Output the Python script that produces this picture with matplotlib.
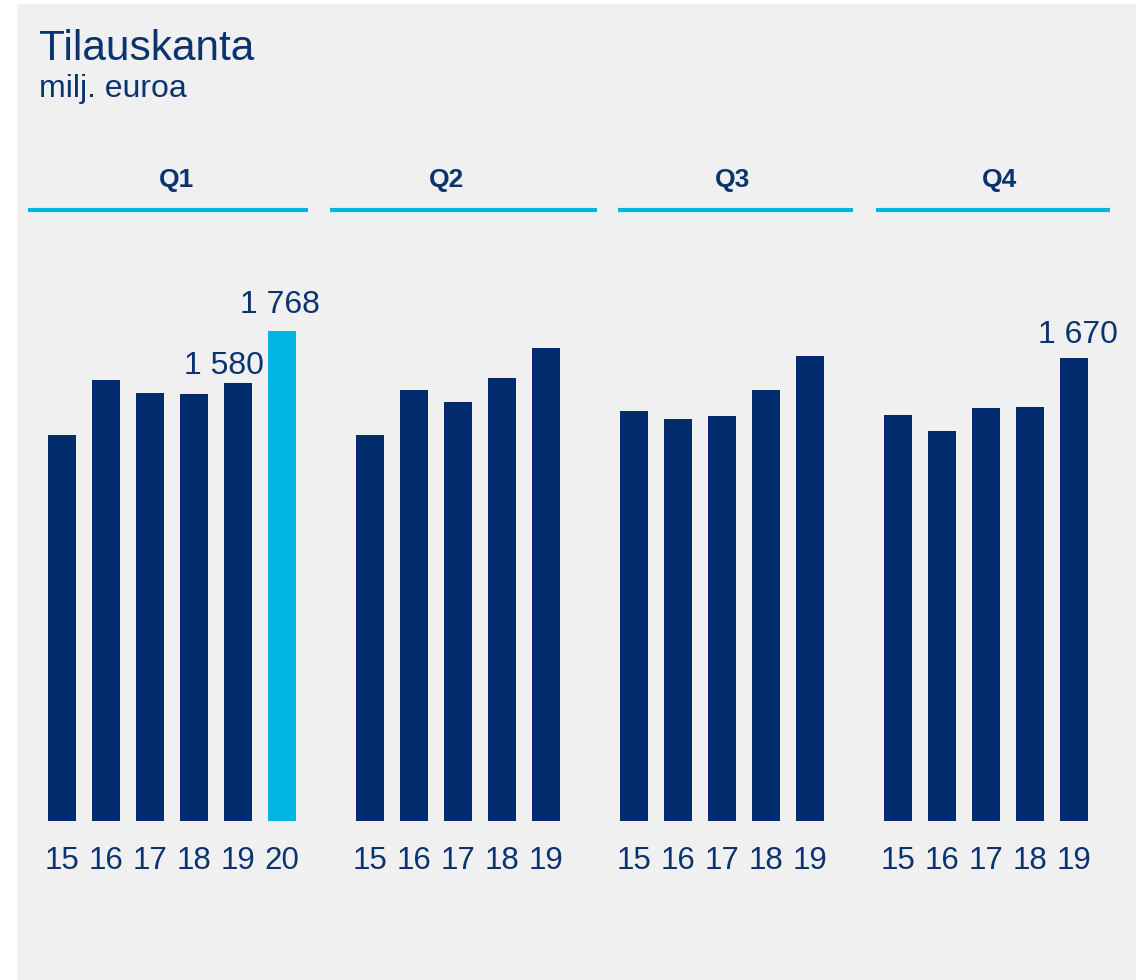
import matplotlib.pyplot as plt
from matplotlib.patches import Rectangle

plt.rcParams['font.family'] = ['Liberation Sans', 'DejaVu Sans']

# data
quarters = ['Q1', 'Q2', 'Q3', 'Q4']
years = [['15', '16', '17', '18', '19', '20'],
         ['15', '16', '17', '18', '19'],
         ['15', '16', '17', '18', '19'],
         ['15', '16', '17', '18', '19']]
values = [[1393, 1591, 1544, 1541, 1580, 1768],
          [1393, 1555, 1512, 1599, 1707],
          [1480, 1451, 1462, 1555, 1678],
          [1465, 1407, 1490, 1494, 1670]]
group_start = [0, 7, 13, 19]
# header line spans (x units)
header_span = [(-0.77, 5.59), (6.09, 12.16), (12.64, 17.98), (18.5, 23.82)]
header_x = [2.6, 8.75, 15.25, 21.3]
# labelled bars: (group, index, dx px, dy px)
labels = [(0, 4, -14, 9), (0, 5, -2, 18), (3, 4, 4, 15)]

navy = '#002b6c'
cyan = '#00b5e2'
txt = '#0a336f'

fig = plt.figure(figsize=(11.47, 9.8), dpi=100)
fig.patch.set_facecolor('white')
fig.patches.append(Rectangle((17 / 1147, 0), (1136 - 17) / 1147, 976 / 980,
                             transform=fig.transFigure, facecolor='#f0f0f0',
                             edgecolor='none', zorder=-1))

ax = fig.add_axes([0, 0, 1, 1])
ax.set_zorder(1)
ax.patch.set_alpha(0)
ax.axis('off')
scale = 490 / 1768
ax.set_xlim(-62 / 44, (1147 - 62) / 44)
ax.set_ylim(-(980 - 821) / scale, 821 / scale)

for g, q in enumerate(quarters):
    xs = [group_start[g] + i for i in range(len(values[g]))]
    cols = [navy] * len(xs)
    if g == 0:
        cols[-1] = cyan
    ax.bar(xs, values[g], width=28 / 44, color=cols, zorder=2)
    for x, y in zip(xs, years[g]):
        ax.text(x, -173, y, ha='center', va='baseline', fontsize=22.5, color=txt)
    ax.plot(header_span[g], [(821 - 210) / scale] * 2, color=cyan, lw=3, solid_capstyle='butt')
    ax.text(header_x[g], (821 - 180) / scale, q, ha='center', va='center',
            fontsize=19, fontweight='bold', color=txt)

for g, i, dx, dy in labels:
    v = values[g][i]
    s = f'{v:,}'.replace(',', ' ')
    ax.annotate(s, (group_start[g] + i, v), xytext=(dx * 0.72, dy * 0.72),
                textcoords='offset points', ha='center', va='baseline',
                fontsize=23, color=txt)

fig.text(39 / 1147, 1 - 60 / 980, 'Tilauskanta', fontsize=30.5, color=txt, va='baseline')
fig.text(39 / 1147, 1 - 97 / 980, 'milj. euroa', fontsize=23, color=txt, va='baseline')

fig.savefig('out.png', dpi=100, facecolor=fig.get_facecolor())
